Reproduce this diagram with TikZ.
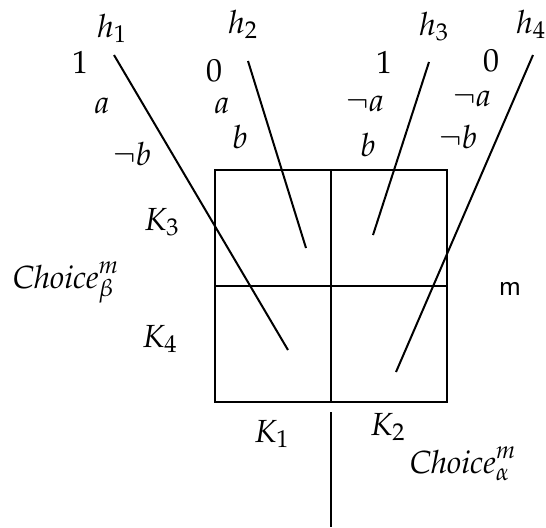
\documentclass[tikz,border=0pt]{standalone}
\usepackage{mathpazo}
\usetikzlibrary{positioning}
\tikzset{
    % text styles
    txt/.style={font=\fontsize{16}{19}\selectfont, inner sep=0pt, anchor=base},
    sans/.style={font=\sffamily\Large, inner sep=0pt, anchor=base},
    % line styles
    wire/.style={line width=1pt, draw=black},
    grid/.style={rectangle, draw=black, line width=1pt, minimum width=116pt, minimum height=116pt, inner sep=0pt}
}
\begin{document}
\begin{tikzpicture}[x=0.5pt, y=-0.5pt]
    \useasboundingbox (0,0) rectangle (546,527);

    % the square with its four cells
    \node[grid] (box) at (331,286) {};
    \draw[wire] (box.north) -- (box.south);
    \draw[wire] (box.west) -- (box.east);

    % stem below
    \coordinate (stem) at (331,412);
    \coordinate (root) at (331,527);
    \draw[wire] (stem) -- (root);

    % the four hands
    \coordinate (t1) at (114,55);  \coordinate (e1) at (288,350);
    \coordinate (t2) at (248,61);  \coordinate (e2) at (306,248);
    \coordinate (t3) at (429,62);  \coordinate (e3) at (373,235);
    \coordinate (t4) at (533,55);  \coordinate (e4) at (396,372);
    \draw[wire] (t1) -- (e1);
    \draw[wire] (t2) -- (e2);
    \draw[wire] (t3) -- (e3);
    \draw[wire] (t4) -- (e4);

    % hand names
    \node[txt] (h1) at (112,37) {$h_1$};
    \node[txt] (h2) at (243,33) {$h_2$};
    \node[txt] (h3) at (434,35) {$h_3$};
    \node[txt] (h4) at (531,33) {$h_4$};

    % values
    \node[txt] (v1) at (80,73) {$1$};
    \node[txt] (v2) at (214,81) {$0$};
    \node[txt] (v3) at (384,73) {$1$};
    \node[txt] (v4) at (491,71) {$0$};

    % literals
    \node[txt] (a1) at (102,113) {$a$};
    \node[txt] (b1) at (132,165) {$\neg b$};
    \node[txt] (a2) at (222,113) {$a$};
    \node[txt] (b2) at (240,148) {$b$};
    \node[txt] (a3) at (365,111) {$\neg a$};
    \node[txt] (b3) at (368,156) {$b$};
    \node[txt] (a4) at (472,106) {$\neg a$};
    \node[txt] (b4) at (458,148) {$\neg b$};

    % rows and columns
    \node[txt] (k3) at (162,230) {$K_3$};
    \node[txt] (k4) at (160,347) {$K_4$};
    \node[txt] (k1) at (272,442) {$K_1$};
    \node[txt] (k2) at (388,435) {$K_2$};

    % choices
    \node[txt] (cb) at (66,288) {$\mathit{Choice}^m_\beta$};
    \node[txt] (ca) at (463,473) {$\mathit{Choice}^m_\alpha$};
    \node[sans] (m) at (510,295) {m};
\end{tikzpicture}
\end{document}
